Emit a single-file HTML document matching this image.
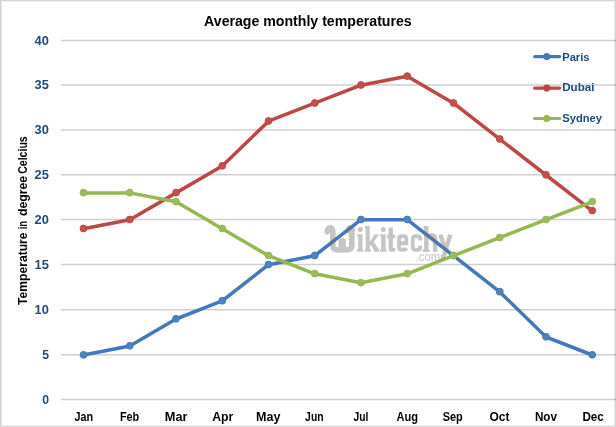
<!DOCTYPE html><html><head><meta charset="utf-8"><style>html,body{margin:0;padding:0;background:#fff;}svg{display:block;font-family:"Liberation Sans",sans-serif;font-weight:bold;}</style></head><body>
<svg width="616" height="427" viewBox="0 0 616 427">
<rect x="0" y="0" width="616" height="427" fill="#fff"/>
<g shape-rendering="crispEdges">
<rect x="0" y="0" width="616" height="1" fill="#d6d6d6"/>
<rect x="0" y="1" width="616" height="1" fill="#f2f2f2"/>
<rect x="0" y="0" width="1" height="427" fill="#d2d2d2"/>
<rect x="1" y="1" width="1" height="426" fill="#e6e6e6"/>
<rect x="614" y="1" width="1" height="426" fill="#e8e8e8"/>
<rect x="615" y="0" width="1" height="427" fill="#d6d6d6"/>
<rect x="1" y="425" width="614" height="1" fill="#ececec"/>
<rect x="0" y="426" width="616" height="1" fill="#dcdcdc"/>
</g>
<line x1="61" y1="399.50" x2="616" y2="399.50" stroke="#CFCFCF" stroke-width="1.6" style="mix-blend-mode:multiply"/>
<line x1="61" y1="354.80" x2="616" y2="354.80" stroke="#CFCFCF" stroke-width="1.6" style="mix-blend-mode:multiply"/>
<line x1="61" y1="309.80" x2="616" y2="309.80" stroke="#CFCFCF" stroke-width="1.6" style="mix-blend-mode:multiply"/>
<line x1="61" y1="264.50" x2="616" y2="264.50" stroke="#CFCFCF" stroke-width="1.6" style="mix-blend-mode:multiply"/>
<line x1="61" y1="219.50" x2="616" y2="219.50" stroke="#CFCFCF" stroke-width="1.6" style="mix-blend-mode:multiply"/>
<line x1="61" y1="174.80" x2="616" y2="174.80" stroke="#CFCFCF" stroke-width="1.6" style="mix-blend-mode:multiply"/>
<line x1="61" y1="130.00" x2="616" y2="130.00" stroke="#CFCFCF" stroke-width="1.6" style="mix-blend-mode:multiply"/>
<line x1="61" y1="85.00" x2="616" y2="85.00" stroke="#CFCFCF" stroke-width="1.6" style="mix-blend-mode:multiply"/>
<line x1="61" y1="40.50" x2="616" y2="40.50" stroke="#CFCFCF" stroke-width="1.6" style="mix-blend-mode:multiply"/>
<text x="49.0" y="403.55" text-anchor="end" font-size="12.2" fill="#1F497D">0</text>
<text x="49.0" y="358.85" text-anchor="end" font-size="12.2" fill="#1F497D">5</text>
<text x="34.5" y="313.85" font-size="12.2" fill="#1F497D" textLength="14.3" lengthAdjust="spacingAndGlyphs">10</text>
<text x="34.5" y="268.55" font-size="12.2" fill="#1F497D" textLength="14.3" lengthAdjust="spacingAndGlyphs">15</text>
<text x="34.5" y="223.55" font-size="12.2" fill="#1F497D" textLength="14.3" lengthAdjust="spacingAndGlyphs">20</text>
<text x="34.5" y="178.85" font-size="12.2" fill="#1F497D" textLength="14.3" lengthAdjust="spacingAndGlyphs">25</text>
<text x="34.5" y="134.05" font-size="12.2" fill="#1F497D" textLength="14.3" lengthAdjust="spacingAndGlyphs">30</text>
<text x="34.5" y="89.05" font-size="12.2" fill="#1F497D" textLength="14.3" lengthAdjust="spacingAndGlyphs">35</text>
<text x="34.5" y="44.55" font-size="12.2" fill="#1F497D" textLength="14.3" lengthAdjust="spacingAndGlyphs">40</text>
<text x="83.90" y="421.0" text-anchor="middle" font-size="12" fill="#000" textLength="18.60" lengthAdjust="spacingAndGlyphs">Jan</text>
<text x="129.55" y="421.0" text-anchor="middle" font-size="12" fill="#000" textLength="19.30" lengthAdjust="spacingAndGlyphs">Feb</text>
<text x="176.15" y="421.0" text-anchor="middle" font-size="12" fill="#000" textLength="22.70" lengthAdjust="spacingAndGlyphs">Mar</text>
<text x="222.75" y="421.0" text-anchor="middle" font-size="12" fill="#000" textLength="21.10" lengthAdjust="spacingAndGlyphs">Apr</text>
<text x="268.30" y="421.0" text-anchor="middle" font-size="12" fill="#000" textLength="24.40" lengthAdjust="spacingAndGlyphs">May</text>
<text x="314.35" y="421.0" text-anchor="middle" font-size="12" fill="#000" textLength="18.50" lengthAdjust="spacingAndGlyphs">Jun</text>
<text x="360.85" y="421.0" text-anchor="middle" font-size="12" fill="#000" textLength="14.90" lengthAdjust="spacingAndGlyphs">Jul</text>
<text x="407.25" y="421.0" text-anchor="middle" font-size="12" fill="#000" textLength="21.50" lengthAdjust="spacingAndGlyphs">Aug</text>
<text x="452.70" y="421.0" text-anchor="middle" font-size="12" fill="#000" textLength="20.00" lengthAdjust="spacingAndGlyphs">Sep</text>
<text x="499.50" y="421.0" text-anchor="middle" font-size="12" fill="#000" textLength="20.00" lengthAdjust="spacingAndGlyphs">Oct</text>
<text x="545.95" y="421.0" text-anchor="middle" font-size="12" fill="#000" textLength="22.10" lengthAdjust="spacingAndGlyphs">Nov</text>
<text x="593.10" y="421.0" text-anchor="middle" font-size="12" fill="#000" textLength="21.40" lengthAdjust="spacingAndGlyphs">Dec</text>
<text x="307.9" y="25.9" text-anchor="middle" font-size="14" fill="#000" textLength="207.6" lengthAdjust="spacingAndGlyphs">Average monthly temperatures</text>
<g transform="translate(27.4,304.9) rotate(-90)" font-size="12" fill="#000">
<text x="0" y="0" textLength="72.4" lengthAdjust="spacingAndGlyphs">Temperature</text>
<text x="75.6" y="0" textLength="8.4" lengthAdjust="spacingAndGlyphs">in</text>
<text x="88.8" y="0" textLength="40.2" lengthAdjust="spacingAndGlyphs">degree</text>
<text x="131.1" y="0" textLength="37.5" lengthAdjust="spacingAndGlyphs">Celcius</text>
</g>
<polyline points="83.50,355.00 129.75,346.00 176.00,319.00 222.25,300.94 268.50,264.70 314.75,255.70 361.00,219.70 407.25,219.70 453.50,255.70 499.75,291.88 546.00,337.00 592.25,355.00" fill="none" stroke="#4379B9" stroke-width="3.5" stroke-linejoin="round" stroke-linecap="round"/>
<circle cx="83.50" cy="354.80" r="3.4" fill="#4F82BE" stroke="#4379B9" stroke-width="1"/>
<circle cx="129.75" cy="345.80" r="3.4" fill="#4F82BE" stroke="#4379B9" stroke-width="1"/>
<circle cx="176.00" cy="318.80" r="3.4" fill="#4F82BE" stroke="#4379B9" stroke-width="1"/>
<circle cx="222.25" cy="300.74" r="3.4" fill="#4F82BE" stroke="#4379B9" stroke-width="1"/>
<circle cx="268.50" cy="264.50" r="3.4" fill="#4F82BE" stroke="#4379B9" stroke-width="1"/>
<circle cx="314.75" cy="255.50" r="3.4" fill="#4F82BE" stroke="#4379B9" stroke-width="1"/>
<circle cx="361.00" cy="219.50" r="3.4" fill="#4F82BE" stroke="#4379B9" stroke-width="1"/>
<circle cx="407.25" cy="219.50" r="3.4" fill="#4F82BE" stroke="#4379B9" stroke-width="1"/>
<circle cx="453.50" cy="255.50" r="3.4" fill="#4F82BE" stroke="#4379B9" stroke-width="1"/>
<circle cx="499.75" cy="291.68" r="3.4" fill="#4F82BE" stroke="#4379B9" stroke-width="1"/>
<circle cx="546.00" cy="336.80" r="3.4" fill="#4F82BE" stroke="#4379B9" stroke-width="1"/>
<circle cx="592.25" cy="354.80" r="3.4" fill="#4F82BE" stroke="#4379B9" stroke-width="1"/>
<polyline points="83.50,228.70 129.75,219.70 176.00,192.88 222.25,166.04 268.50,121.20 314.75,103.20 361.00,85.20 407.25,76.30 453.50,103.20 499.75,139.16 546.00,175.00 592.25,210.76" fill="none" stroke="#BC4744" stroke-width="3.5" stroke-linejoin="round" stroke-linecap="round"/>
<circle cx="83.50" cy="228.50" r="3.4" fill="#C1514E" stroke="#BC4744" stroke-width="1"/>
<circle cx="129.75" cy="219.50" r="3.4" fill="#C1514E" stroke="#BC4744" stroke-width="1"/>
<circle cx="176.00" cy="192.68" r="3.4" fill="#C1514E" stroke="#BC4744" stroke-width="1"/>
<circle cx="222.25" cy="165.84" r="3.4" fill="#C1514E" stroke="#BC4744" stroke-width="1"/>
<circle cx="268.50" cy="121.00" r="3.4" fill="#C1514E" stroke="#BC4744" stroke-width="1"/>
<circle cx="314.75" cy="103.00" r="3.4" fill="#C1514E" stroke="#BC4744" stroke-width="1"/>
<circle cx="361.00" cy="85.00" r="3.4" fill="#C1514E" stroke="#BC4744" stroke-width="1"/>
<circle cx="407.25" cy="76.10" r="3.4" fill="#C1514E" stroke="#BC4744" stroke-width="1"/>
<circle cx="453.50" cy="103.00" r="3.4" fill="#C1514E" stroke="#BC4744" stroke-width="1"/>
<circle cx="499.75" cy="138.96" r="3.4" fill="#C1514E" stroke="#BC4744" stroke-width="1"/>
<circle cx="546.00" cy="174.80" r="3.4" fill="#C1514E" stroke="#BC4744" stroke-width="1"/>
<circle cx="592.25" cy="210.56" r="3.4" fill="#C1514E" stroke="#BC4744" stroke-width="1"/>
<polyline points="83.50,192.88 129.75,192.88 176.00,201.82 222.25,228.70 268.50,255.70 314.75,273.76 361.00,282.82 407.25,273.76 453.50,255.70 499.75,237.70 546.00,219.70 592.25,201.82" fill="none" stroke="#96B850" stroke-width="3.5" stroke-linejoin="round" stroke-linecap="round"/>
<circle cx="83.50" cy="192.68" r="3.4" fill="#9CBC5A" stroke="#96B850" stroke-width="1"/>
<circle cx="129.75" cy="192.68" r="3.4" fill="#9CBC5A" stroke="#96B850" stroke-width="1"/>
<circle cx="176.00" cy="201.62" r="3.4" fill="#9CBC5A" stroke="#96B850" stroke-width="1"/>
<circle cx="222.25" cy="228.50" r="3.4" fill="#9CBC5A" stroke="#96B850" stroke-width="1"/>
<circle cx="268.50" cy="255.50" r="3.4" fill="#9CBC5A" stroke="#96B850" stroke-width="1"/>
<circle cx="314.75" cy="273.56" r="3.4" fill="#9CBC5A" stroke="#96B850" stroke-width="1"/>
<circle cx="361.00" cy="282.62" r="3.4" fill="#9CBC5A" stroke="#96B850" stroke-width="1"/>
<circle cx="407.25" cy="273.56" r="3.4" fill="#9CBC5A" stroke="#96B850" stroke-width="1"/>
<circle cx="453.50" cy="255.50" r="3.4" fill="#9CBC5A" stroke="#96B850" stroke-width="1"/>
<circle cx="499.75" cy="237.50" r="3.4" fill="#9CBC5A" stroke="#96B850" stroke-width="1"/>
<circle cx="546.00" cy="219.50" r="3.4" fill="#9CBC5A" stroke="#96B850" stroke-width="1"/>
<circle cx="592.25" cy="201.62" r="3.4" fill="#9CBC5A" stroke="#96B850" stroke-width="1"/>
<line x1="534.6" y1="56.6" x2="559.8" y2="56.6" stroke="#4379B9" stroke-width="3.1" stroke-linecap="round"/>
<circle cx="546.75" cy="56.6" r="3.55" fill="#4379B9"/>
<text x="562.2" y="61.0" font-size="11.5" fill="#1F497D" textLength="27.3" lengthAdjust="spacingAndGlyphs">Paris</text>
<line x1="534.6" y1="88.1" x2="559.8" y2="88.1" stroke="#BC4744" stroke-width="3.1" stroke-linecap="round"/>
<circle cx="546.75" cy="88.1" r="3.55" fill="#BC4744"/>
<text x="562.2" y="91.2" font-size="11.5" fill="#1F497D" textLength="32.3" lengthAdjust="spacingAndGlyphs">Dubai</text>
<line x1="534.6" y1="118.5" x2="559.8" y2="118.5" stroke="#96B850" stroke-width="3.1" stroke-linecap="round"/>
<circle cx="546.75" cy="118.5" r="3.55" fill="#96B850"/>
<text x="562.2" y="122.3" font-size="11.5" fill="#1F497D" textLength="39.9" lengthAdjust="spacingAndGlyphs">Sydney</text>
<g opacity="0.4">
<g fill="#707070">
<circle cx="360.3" cy="229.4" r="2.5"/><circle cx="383.3" cy="229.4" r="2.5"/>
<path d="M357.2,234.3 H362.6 V249.4 H363.6 V251.7 H357 V249.4 H358.2 V236.6 H357.2 Z"/>
<path d="M380.2,234.3 H385.6 V249.4 H386.6 V251.7 H380 V249.4 H381.2 V236.6 H380.2 Z"/>
<path d="M365,226.1 H369.7 V242.2 L374.2,234.4 H379 L373.8,242 L379,249.4 V251.7 H374.6 L370.9,244.8 L369.7,246.4 V249.4 H371 V251.7 H364.8 V249.4 H365.6 V228.4 H365 Z"/>
<path d="M388.6,227.6 H392.9 V234.4 H395.2 V238.4 H392.9 V246.6 C392.9,248 393.6,248.2 395.2,248.1 V251.6 C394,251.9 393,252 392,252 C389.6,252 388.6,250.6 388.6,247.8 V238.4 H387.3 V234.4 H388.6 Z"/>
</g>
<g fill="none" stroke="#707070" stroke-width="4.4">
<path d="M399,243.3 H406.4 V239 C406.4,237 405.4,236.1 403.7,236.1 H401.7 C400,236.1 399,237 399,239 V246.9 C399,248.7 400,249.7 401.7,249.7 H403.7 C405,249.7 406,249.3 406.6,248.3" stroke-width="3.9"/>
<path d="M420.2,240.6 V239 C420.2,237 419.2,236.1 417.5,236.1 H415.5 C413.8,236.1 412.8,237 412.8,239 V246.9 C412.8,248.7 413.8,249.7 415.5,249.7 H417.5 C419.2,249.7 420.2,248.7 420.2,246.9 V245.4" stroke-width="3.9"/>
<path d="M426.3,225.9 V251.7 M426.3,239 C427.2,236 429,235.1 431.5,235.1 C434.5,235.1 435.2,236.6 435.2,240 V251.7"/>
<path d="M422.4,250.6 H429.6 M423.6,227 H426.3" stroke-width="2.4"/>
<path d="M440.3,234.6 L445.8,251 M450.3,234.6 L444.2,254.8 C443.6,256.3 442.6,257.3 440.8,257.3"/>
</g>
<text x="415.6" y="260.6" font-size="12.5" font-weight="normal" fill="#707070" textLength="24.5" lengthAdjust="spacingAndGlyphs">.com</text>
<path d="M327.2,231.8 C327.2,226.4 332.8,226.2 332.8,231.8 L332.8,245.5 C332.8,249.2 335,250 338,250 H346 C349.5,250 351.8,249.2 351.8,245.5 V229" fill="none" stroke="#707070" stroke-width="5.6" stroke-linecap="round" stroke-linejoin="round"/>
<path d="M342.2,247 V241.8" fill="none" stroke="#707070" stroke-width="7.4" stroke-linecap="round"/>
<circle cx="350.2" cy="229.7" r="4.5" fill="#707070"/>
</g>
</svg></body></html>
